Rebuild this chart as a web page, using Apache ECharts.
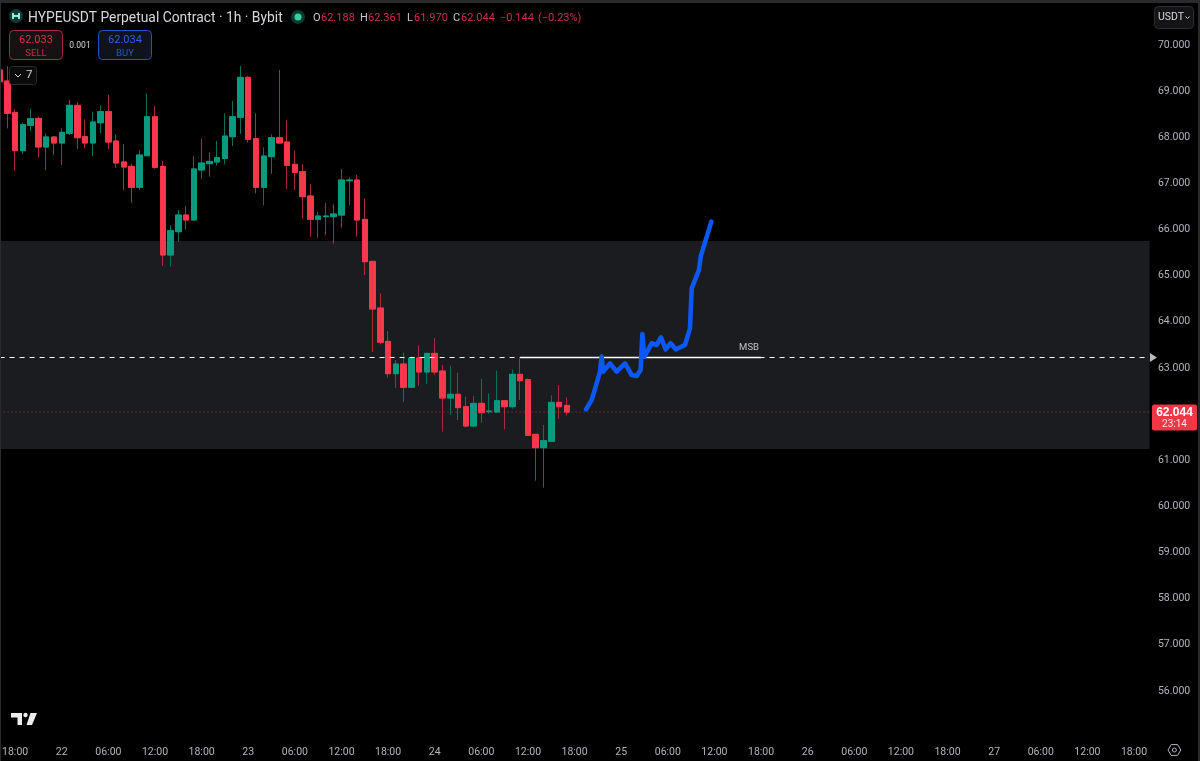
<!DOCTYPE html>
<html>
<head>
<meta charset="utf-8">
<title>HYPEUSDT Perpetual Contract 1h</title>
<style>html,body{margin:0;padding:0;background:#000}#chart{width:1200px;height:761px}</style>
<script src="https://cdn.jsdelivr.net/npm/echarts@6/dist/echarts.min.js"></script>
</head>
<body>
<div id="chart"></div>
<script>
// Hourly candles, oldest first
const opens = [69.458,69.219,68.54,67.71,68.259,68.41,67.789,68.006,67.876,68.085,68.692,68.013,67.876,68.316,68.555,67.919,67.464,67.37,66.915,67.601,68.446,67.37,65.448,65.954,66.315,66.207,67.291,67.428,67.464,67.543,68.013,68.432,69.299,67.97,66.915,67.58,67.991,67.897,67.413,67.254,66.727,66.221,66.279,66.279,66.315,67.059,67.074,66.221,65.311,64.3,63.577,62.876,63.086,62.58,63.216,62.913,63.317,62.934,62.349,62.429,62.161,61.742,62.233,62.053,62.046,62.291,62.161,62.862,62.746,61.562,61.273,61.41,62.255,62.188];
const closes = [69.205,68.519,67.71,68.273,68.403,67.789,68.006,67.876,68.107,68.692,67.991,67.876,68.331,68.555,67.897,67.442,67.356,66.915,67.616,68.446,67.348,65.448,65.976,66.315,66.207,67.312,67.442,67.478,67.558,68.027,68.446,69.299,67.955,66.915,67.594,67.991,67.876,67.392,67.24,66.713,66.221,66.294,66.294,66.337,67.074,67.074,66.207,65.304,64.278,63.556,62.876,63.086,62.58,63.216,62.913,63.317,62.913,62.349,62.429,62.14,61.742,62.233,62.031,62.067,62.291,62.161,62.862,62.725,61.54,61.273,61.424,62.255,62.161,62.044];
const lows = [69.205,68.194,67.269,67.637,68.136,67.565,67.291,67.616,67.399,68.049,67.746,67.76,67.594,68.085,67.746,67.341,66.857,66.583,66.857,67.601,67.319,65.21,65.195,65.737,66.005,66.207,67.095,67.146,67.384,67.413,67.811,68.071,67.883,66.785,66.525,67.204,67.876,66.879,66.857,66.229,65.846,65.824,65.882,65.687,66.041,66.525,65.846,65.015,63.346,63.512,62.79,62.566,62.263,62.58,62.616,62.652,62.848,61.619,61.981,61.872,61.713,61.713,61.814,62.002,62.031,61.67,62.118,62.306,61.54,60.557,60.406,61.41,61.901,61.97];
const highs = [69.458,69.545,68.613,68.316,68.62,68.446,68.085,68.027,68.194,68.808,68.757,68.389,68.555,68.692,68.916,68.064,67.847,67.435,67.724,68.952,68.678,67.486,66.091,66.424,66.51,67.594,67.97,67.673,67.919,68.519,68.786,69.545,69.328,68.519,67.782,68.064,69.458,68.374,67.702,67.413,66.987,66.387,66.583,66.546,67.312,67.132,67.182,66.676,65.311,64.618,63.801,63.173,63.332,63.245,63.491,63.317,63.649,63.064,63.05,62.898,62.378,62.392,62.768,62.45,62.941,62.291,62.97,63.209,62.775,61.562,61.764,62.407,62.631,62.361];

// Time scale labels, one every six hours, and the number of hourly slots on screen
const tickLabels = ['18:00','22','06:00','12:00','18:00','23','06:00','12:00','18:00','24','06:00','12:00','18:00','25','06:00','12:00','18:00','26','06:00','12:00','18:00','27','06:00','12:00','18:00'];
const slotCount = 149;
const firstTickSlot = 2;

// Price levels
const zoneTop = 65.752;
const zoneBottom = 61.244;
const msbPrice = 63.227;
const lastPrice = 62.044;
const msbSlots = [67, 98];
const msbLabelSlot = 96.45;

// Hand-drawn projection: slot position and price
const projectionSlots = [75.47,76.20,76.84,77.27,77.48,77.70,78.56,79.41,80.49,81.35,81.99,82.50,82.72,82.98,83.92,84.56,85.12,85.72,86.36,87.01,88.21,88.85,89.07,90.01,90.23,91.60];
const projectionPrices = [62.104,62.306,62.668,62.92,63.246,62.92,63.101,62.92,63.101,62.848,62.826,62.957,63.737,63.246,63.535,63.498,63.665,63.405,63.535,63.405,63.498,63.86,64.727,65.124,65.413,66.171];

const RED = '#f7374b', GREEN = '#0a9a7f', RED_WICK = '#a32f3c', GREEN_WICK = '#0b6f5c';
const FONT = 'Roboto, sans-serif';

const categories = Array.from({length: slotCount}, (_, k) =>
  (k - firstTickSlot) % 6 === 0 ? tickLabels[(k - firstTickSlot) / 6] : '');

const fullCandles = opens.map((o, i) => [o, closes[i], lows[i], highs[i]]);
const candleBodies = opens.map((o, i) => {
  const lo = Math.min(o, closes[i]), hi = Math.max(o, closes[i]);
  return [o, closes[i], lo, hi];
});

const slotWidth = 7.77;
const chart = echarts.init(document.getElementById('chart'), null, {renderer: 'canvas'});

const levelLine = (name, y, style, z) => ({
  name, type: 'line', xAxisIndex: 1, yAxisIndex: 0, symbol: 'none', silent: true, z,
  data: [[0, y], [slotCount - 1, y]], lineStyle: style
});

// Screen furniture: panel edges, header, order buttons and logo
const text = (x, y, s, fill, size, extra) => ({
  type: 'text', x, y: y + 1.5, silent: true, z: 50,
  style: Object.assign({text: s, fill, font: `${size}px ${FONT}`, verticalAlign: 'middle'}, extra || {})
});
const box = (x, y, w, h, fill, stroke, r) => ({
  type: 'rect', silent: true, z: 49, shape: {x, y, width: w, height: h, r: r || 0},
  style: {fill, stroke: stroke || null, lineWidth: 1}
});
const poly = (points, fill) => ({type: 'polygon', silent: true, z: 50, shape: {points}, style: {fill}});

const furniture = [
  box(0, 0, 1200, 3, '#2a2a2c'), box(0, 0, 1, 761, '#2a2a2c'), box(1198, 0, 2, 761, '#2a2a2c'),
  // Symbol icon and title
  {type: 'circle', silent: true, z: 49, shape: {cx: 16, cy: 16, r: 7}, style: {fill: '#123a34'}},
  box(12, 15, 8, 2, '#8ff0dc'), box(12, 13, 2, 6, '#8ff0dc'), box(18, 13, 2, 6, '#8ff0dc'),
  text(28, 17, 'HYPEUSDT Perpetual Contract · 1h · Bybit', '#d6d8de', 13.85),
  {type: 'circle', silent: true, z: 49, shape: {cx: 298, cy: 17, r: 7}, style: {fill: '#0c3a30'}},
  {type: 'circle', silent: true, z: 50, shape: {cx: 298, cy: 17, r: 3.5}, style: {fill: '#34d3a6'}},
  // Open, high, low, close readout
  text(313, 17, 'O', '#c8cad0', 11), text(321, 17, '62.188', '#c9324a', 11),
  text(360, 17, 'H', '#c8cad0', 11), text(368, 17, '62.361', '#c9324a', 11),
  text(407, 17, 'L', '#c8cad0', 11), text(414, 17, '61.970', '#c9324a', 11),
  text(453, 17, 'C', '#c8cad0', 11), text(461, 17, '62.044', '#c9324a', 11),
  text(500, 17, '−0.144', '#c9324a', 11), text(538, 17, '(−0.23%)', '#c9324a', 11),
  // Sell and buy buttons
  box(9.5, 30.5, 53, 29, '#161214', '#a02c3c', 4),
  text(36, 39, '62.033', '#d8324a', 11, {align: 'center'}),
  text(36, 52, 'SELL', '#c42f42', 9.5, {align: 'center'}),
  text(80, 44.5, '0.001', '#d6d8de', 8.5, {align: 'center'}),
  box(98.5, 30.5, 53, 29, '#10131c', '#2b4fc0', 4),
  text(125, 39, '62.034', '#2f5fe6', 11, {align: 'center'}),
  text(125, 52, 'BUY', '#2a55d0', 9.5, {align: 'center'}),
  // Collapsed indicators badge
  box(9.5, 66.5, 27, 18, '#0b0b0b', '#2c2c2e', 3),
  {type: 'polyline', silent: true, z: 50, shape: {points: [[15, 74], [18, 77], [21, 74]]}, style: {stroke: '#d6d8de', lineWidth: 1, fill: null}},
  text(26, 74, '7', '#d6d8de', 11.5),
  // Currency button
  box(1154.5, 6.5, 39, 22, '#141416', '#2e2e30', 4),
  text(1158, 16, 'USDT', '#d6d8de', 10.5),
  {type: 'polyline', silent: true, z: 50, shape: {points: [[1185.5, 16.5], [1187.5, 18.5], [1189.5, 16.5]]}, style: {stroke: '#d6d8de', lineWidth: 1, fill: null}},
  // Logo
  poly([[11, 713], [22, 713], [22, 725], [17.5, 725], [17.5, 717.5], [11, 717.5]], '#ececec'),
  {type: 'circle', silent: true, z: 50, shape: {cx: 25.5, cy: 715, r: 2.2}, style: {fill: '#ececec'}},
  poly([[30.5, 713], [37, 713], [32, 725], [26.5, 725]], '#ececec'),
  // Settings button
  {type: 'polygon', silent: true, z: 50, shape: {points: [[1168, 750], [1171.2, 744.6], [1177.6, 744.6], [1180.8, 750], [1177.6, 755.4], [1171.2, 755.4]]}, style: {fill: null, stroke: '#b2b5be', lineWidth: 1}},
  {type: 'circle', silent: true, z: 50, shape: {cx: 1174.4, cy: 750, r: 2}, style: {fill: null, stroke: '#b2b5be', lineWidth: 1}}
];

chart.setOption({
  animation: false,
  backgroundColor: '#000',
  grid: {left: -0.4 - slotWidth / 2, top: -1.14, width: slotWidth * slotCount, height: 738.24, containLabel: false, outerBoundsMode: 'none'},
  xAxis: [
    {
      type: 'category', data: categories, boundaryGap: true,
      axisLine: {show: false}, axisTick: {show: false}, splitLine: {show: false},
      axisLabel: {
        color: '#b2b5be', fontSize: 10.5, fontFamily: FONT, margin: 10, hideOverlap: false,
        interval: k => (k - firstTickSlot) % 6 === 0
      }
    },
    // Same extent in slot units, for levels and the freehand path
    {type: 'value', min: -0.5, max: slotCount - 0.5, show: false, splitLine: {show: false}}
  ],
  yAxis: {
    type: 'value', position: 'right', min: 55, max: 71, interval: 1,
    axisLine: {show: false}, axisTick: {show: false}, splitLine: {show: false},
    axisLabel: {
      color: '#b2b5be', fontSize: 10.5, fontFamily: FONT, margin: 4.5, padding: [2, 0, 0, 0],
      showMinLabel: false, showMaxLabel: false,
      formatter: v => v.toFixed(3)
    }
  },
  series: [
    {
      name: 'Zone', type: 'line', xAxisIndex: 1, data: [], silent: true, z: 1,
      markArea: {
        silent: true,
        itemStyle: {color: '#1a1c1f'},
        data: [[{xAxis: 0, yAxis: zoneTop}, {xAxis: slotCount - 1, yAxis: zoneBottom}]]
      }
    },
    {
      name: 'Range', type: 'candlestick', data: fullCandles, barWidth: 6, z: 3, silent: true,
      itemStyle: {color: GREEN, color0: RED, borderColor: GREEN_WICK, borderColor0: RED_WICK, borderWidth: 1}
    },
    {
      name: 'Body', type: 'candlestick', data: candleBodies, barWidth: 6, z: 4, silent: true,
      itemStyle: {color: GREEN, color0: RED, borderColor: GREEN, borderColor0: RED, borderWidth: 1}
    },
    levelLine('Last price', lastPrice, {color: '#f7374b', width: 1, type: [1, 3], opacity: 0.75}, 5),
    levelLine('Structure level', msbPrice, {color: '#ffffff', width: 1, type: [5, 5]}, 6),
    {
      name: 'MSB', type: 'line', xAxisIndex: 1, symbol: 'none', silent: true, z: 7,
      data: [[msbSlots[0], msbPrice], [msbSlots[1], msbPrice]],
      lineStyle: {color: '#ffffff', width: 1.5}
    },
    {
      name: 'MSB label', type: 'scatter', xAxisIndex: 1, silent: true, z: 7,
      data: [[msbLabelSlot, msbPrice]], symbolSize: 1, itemStyle: {color: 'transparent'},
      label: {show: true, position: 'top', distance: 4, formatter: 'MSB', color: '#e8e8e8', fontSize: 9.5, fontFamily: FONT}
    },
    {
      name: 'Level marker', type: 'scatter', xAxisIndex: 1, clip: false, silent: true, z: 8,
      data: [[slotCount - 0.5, msbPrice]], symbol: 'triangle', symbolRotate: -90, symbolSize: [9, 7],
      itemStyle: {color: '#e8e8e8'}
    },
    {
      name: 'Projection', type: 'line', xAxisIndex: 1, symbol: 'none', silent: true, z: 9,
      data: projectionSlots.map((s, i) => [s, projectionPrices[i]]),
      lineStyle: {color: '#0a58f6', width: 4.6, cap: 'round', join: 'round'}
    }
  ],
  graphic: furniture
});

// Last-price tag sits on the price scale, so place it from the axis
const tagY = chart.convertToPixel({yAxisIndex: 0}, lastPrice);
chart.setOption({graphic: furniture.concat([
  box(1152, tagY - 7.5, 45, 26, '#f23645', null, 2),
  text(1174.5, tagY - 1, lastPrice.toFixed(3), '#ffffff', 10.5, {align: 'center', fontWeight: 'bold'}),
  text(1174.5, tagY + 11, '23:14', '#ffe2e5', 10, {align: 'center'})
])});
</script>
</body>
</html>
